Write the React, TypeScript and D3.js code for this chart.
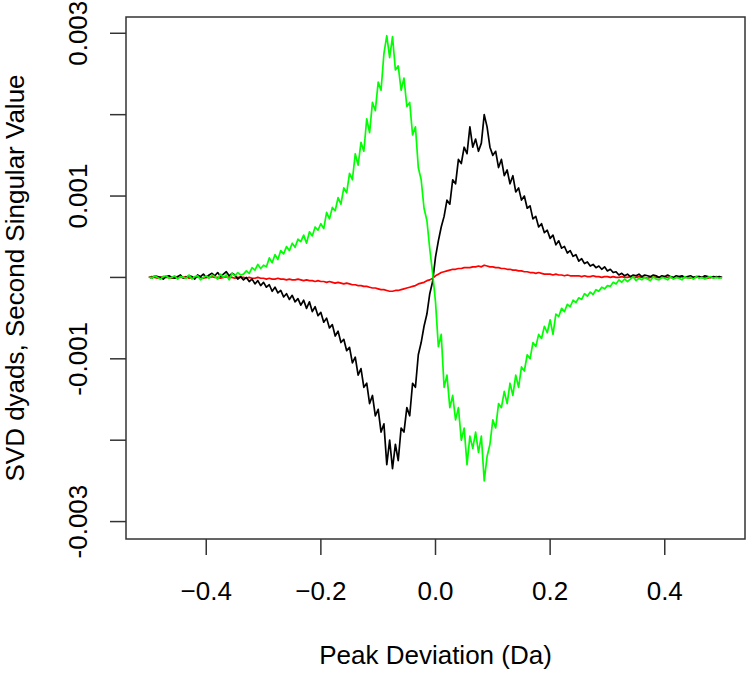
import * as d3 from "d3";

// grid of peak deviations: -0.5 .. 0.5, step 0.005 (201 points)
const X_START = -0.5;
const X_STEP = 0.005;

// values in units of 1e-3, one row = 10 points (0.05 Da)
const blackVals = [
  0.01, -0.01, 0.02, 0.01, 0, -0.02, 0.01, 0.02, 0, -0.01,
  0.01, 0.03, -0.01, 0, 0.02, 0.01, -0.02, 0.03, 0.01, 0.04,
  0, 0.03, 0.05, 0.02, 0.06, 0.01, 0.04, 0.07, 0.02, 0.05,
  0.03, -0.02, 0.01, -0.03, 0, -0.05, -0.02, -0.08, -0.04, -0.1,
  -0.06, -0.12, -0.09, -0.17, -0.12, -0.19, -0.16, -0.24, -0.2, -0.27,
  -0.22, -0.3, -0.26, -0.34, -0.28, -0.38, -0.3, -0.42, -0.36, -0.47,
  -0.43, -0.55, -0.5, -0.62, -0.58, -0.72, -0.66, -0.8, -0.76, -0.9,
  -0.86, -1.05, -0.98, -1.2, -1.12, -1.35, -1.3, -1.55, -1.45, -1.7,
  -1.62, -1.9, -1.8, -2.3, -2.0, -2.35, -2.05, -2.25, -1.85, -1.9,
  -1.6, -1.7, -1.3, -1.35, -0.95, -0.8, -0.6, -0.45, -0.2, -0.05,
  0.25, 0.45, 0.62, 0.75, 0.95, 0.9, 1.2, 1.15, 1.45, 1.4,
  1.6, 1.52, 1.85, 1.6, 1.7, 1.55, 1.65, 2.0, 1.85, 1.6,
  1.5, 1.55, 1.35, 1.45, 1.25, 1.32, 1.15, 1.25, 1.05, 1.1,
  0.95, 1.0, 0.85, 0.88, 0.72, 0.75, 0.62, 0.66, 0.55, 0.58,
  0.48, 0.52, 0.4, 0.45, 0.36, 0.38, 0.3, 0.33, 0.26, 0.28,
  0.2, 0.23, 0.17, 0.19, 0.14, 0.16, 0.12, 0.14, 0.1, 0.13,
  0.08, 0.1, 0.06, 0.07, 0.03, 0.05, 0.02, 0.04, 0.01, 0.03,
  0.02, 0.04, 0.01, 0.03, 0.02, 0.01, 0.03, 0.02, 0, 0.02,
  0.01, 0.03, 0.01, 0, 0.02, 0.01, 0.02, 0, 0.01, 0.02,
  0, 0.01, 0.01, 0, 0.02, 0.01, 0, 0.01, 0, 0.01,
  0,
];

const greenVals = [
  0.01, -0.01, 0.02, 0, -0.02, 0.01, 0.02, -0.01, 0, 0.02,
  -0.02, 0.01, 0, -0.01, 0.03, -0.02, 0.01, 0.02, -0.03, 0,
  0.02, -0.01, 0.03, 0.01, -0.02, 0.04, 0, 0.03, -0.03, 0.05,
  0.02, 0.06, 0.03, 0.04, 0.08, 0.05, 0.12, 0.09, 0.16, 0.11,
  0.15, 0.13, 0.24, 0.18, 0.28, 0.22, 0.33, 0.29, 0.38, 0.33,
  0.42, 0.37, 0.47, 0.44, 0.52, 0.42, 0.56, 0.51, 0.62, 0.58,
  0.66, 0.6, 0.8, 0.72, 0.86, 0.82, 0.98, 0.9, 1.1, 1.04,
  1.28, 1.2, 1.52, 1.38, 1.66, 1.55, 1.95, 1.78, 2.15, 2.05,
  2.4, 2.3, 2.75, 2.97, 2.7, 2.96, 2.55, 2.6, 2.3, 2.45,
  2.1, 2.15, 1.75, 1.85, 1.35, 1.2, 0.85, 0.7, 0.35, 0.05,
  -0.3, -0.85, -0.7, -1.35, -1.2, -1.6, -1.45, -1.75, -1.6, -2.0,
  -1.85, -2.3, -1.95, -2.1, -1.9, -2.15, -1.95, -2.5, -2.2, -2.05,
  -1.75, -1.85, -1.55, -1.6, -1.4, -1.55, -1.3, -1.45, -1.2, -1.35,
  -1.1, -1.15, -0.95, -1.0, -0.8, -0.85, -0.7, -0.75, -0.6, -0.68,
  -0.52, -0.7, -0.45, -0.48, -0.38, -0.42, -0.33, -0.36, -0.28, -0.31,
  -0.25, -0.27, -0.2, -0.23, -0.18, -0.21, -0.15, -0.17, -0.12, -0.14,
  -0.1, -0.11, -0.06, -0.08, -0.03, -0.06, -0.02, -0.05, -0.02, 0.01,
  -0.04, -0.01, -0.03, 0, -0.02, -0.04, 0.01, -0.02, -0.03, 0,
  -0.01, -0.03, 0.01, -0.02, 0, -0.01, -0.03, 0.01, -0.01, 0,
  -0.02, 0.01, -0.01, 0, -0.02, 0, 0.01, -0.01, 0, -0.01,
  0,
];

const redVals = [
  0, 0.01, 0, -0.01, 0, 0.01, 0, 0, -0.01, 0,
  0.01, 0, 0, 0.01, -0.01, 0, 0, 0.01, 0, -0.01,
  0, 0, 0.01, 0, 0, -0.01, 0, 0.01, 0, 0,
  -0.01, 0, 0, 0, -0.01, 0, -0.01, -0.01, 0, -0.01,
  -0.01, -0.02, -0.01, -0.02, -0.02, -0.01, -0.02, -0.02, -0.03, -0.02,
  -0.03, -0.03, -0.02, -0.03, -0.04, -0.03, -0.04, -0.04, -0.05, -0.04,
  -0.05, -0.05, -0.06, -0.05, -0.06, -0.07, -0.06, -0.07, -0.08, -0.07,
  -0.08, -0.09, -0.09, -0.1, -0.1, -0.11, -0.11, -0.12, -0.13, -0.13,
  -0.14, -0.15, -0.15, -0.16, -0.17, -0.17, -0.16, -0.16, -0.15, -0.14,
  -0.13, -0.12, -0.11, -0.1, -0.08, -0.07, -0.06, -0.04, -0.03, -0.01,
  0.02, 0.04, 0.06, 0.07, 0.08, 0.09, 0.1, 0.1, 0.11, 0.11,
  0.12, 0.12, 0.12, 0.13, 0.13, 0.14, 0.13, 0.15, 0.14, 0.13,
  0.13, 0.12, 0.12, 0.11, 0.11, 0.1, 0.1, 0.09, 0.09, 0.08,
  0.08, 0.07, 0.07, 0.06, 0.06, 0.05, 0.06, 0.05, 0.04, 0.04,
  0.04, 0.03, 0.04, 0.03, 0.03, 0.02, 0.03, 0.02, 0.02, 0.02,
  0.02, 0.01, 0.02, 0.01, 0.01, 0.02, 0.01, 0.01, 0, 0.01,
  0.01, 0, 0.01, 0, 0, 0.01, 0, 0, 0.01, 0,
  0, 0.01, 0, 0, -0.01, 0, 0.01, 0, 0, 0,
  0.01, 0, 0, -0.01, 0, 0, 0.01, 0, 0, -0.01,
  0, 0, 0.01, 0, 0, -0.01, 0, 0, 0.01, 0,
  0,
];

const xTicks = [-0.4, -0.2, 0.0, 0.2, 0.4];
const yTicks = [-0.003, -0.002, -0.001, 0, 0.001, 0.002, 0.003];
const yLabelled = [-0.003, -0.001, 0.001, 0.003];

const series = [
  { name: "red", color: "#ff0000", values: redVals },
  { name: "black", color: "#000000", values: blackVals },
  { name: "green", color: "#00ff00", values: greenVals },
];

const W = 750;
const H = 674;
const box = { left: 126, right: 745, top: 17, bottom: 539 };
const font = "'Liberation Sans', Arial, Helvetica, sans-serif";
const fs = 26;

export default function App() {
  const x = d3.scaleLinear().domain([-0.54, 0.54]).range([box.left, box.right]);
  const y = d3.scaleLinear().domain([-0.003214, 0.0032]).range([box.bottom, box.top]);

  const line = d3
    .line<number>()
    .x((_, i) => x(X_START + i * X_STEP))
    .y((v) => y(v * 1e-3));

  return (
    <svg
      width={W}
      height={H}
      style={{ position: "absolute", left: 0, top: 0, background: "#fff" }}
    >
      <g fill="none" strokeLinejoin="round">
        {series.map((s) => (
          <path key={s.name} d={line(s.values) ?? ""} stroke={s.color} strokeWidth={1.7} />
        ))}
      </g>

      <rect
        x={box.left}
        y={box.top}
        width={box.right - box.left}
        height={box.bottom - box.top}
        fill="none"
        stroke="#333"
        strokeWidth={1.5}
      />

      {xTicks.map((t) => (
        <g key={t}>
          <line x1={x(t)} x2={x(t)} y1={box.bottom} y2={box.bottom + 16} stroke="#333" strokeWidth={1.5} />
          <text x={x(t)} y={600} textAnchor="middle" fontFamily={font} fontSize={fs}>
            {d3.format(".1f")(t)}
          </text>
        </g>
      ))}

      {yTicks.map((t) => (
        <line key={t} x1={box.left - 16} x2={box.left} y1={y(t)} y2={y(t)} stroke="#333" strokeWidth={1.5} />
      ))}
      {yLabelled.map((t) => (
        <text
          key={t}
          transform={`translate(87,${y(t)}) rotate(-90)`}
          textAnchor="middle"
          fontFamily={font}
          fontSize={fs}
        >
          {d3.format(".3f")(t).replace("−", "-")}
        </text>
      ))}

      <text x={(box.left + box.right) / 2} y={664} textAnchor="middle" fontFamily={font} fontSize={fs}>
        Peak Deviation (Da)
      </text>
      <text
        transform={`translate(24,${(box.top + box.bottom) / 2}) rotate(-90)`}
        textAnchor="middle"
        fontFamily={font}
        fontSize={fs}
      >
        SVD dyads, Second Singular Value
      </text>
    </svg>
  );
}
